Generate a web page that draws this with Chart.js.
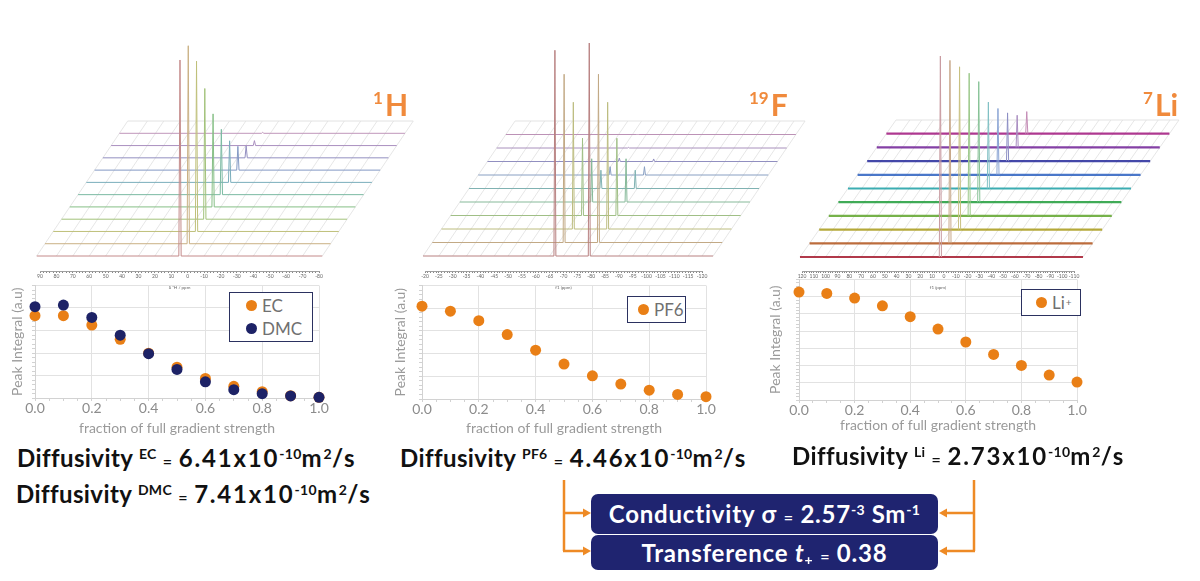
<!DOCTYPE html>
<html lang="en">
<head>
<meta charset="UTF-8" />
<title>Diffusion NMR of 1H, 19F and 7Li</title>
<script src="https://cdn.jsdelivr.net/npm/chart.js"></script>
<style>
  body { margin: 0; width: 1200px; height: 581px; background: #fff; position: relative; overflow: hidden;
         font-family: Lato, "Noto Sans", sans-serif; }
  canvas { position: absolute; }
  .nuc { position: absolute; color: #f08a3c; font-weight: 700; font-size: 30px; line-height: 1; white-space: nowrap; }
  .nuc .up { font-size: 17px; vertical-align: top; margin-right: 2px; }
  .diff { position: absolute; font-weight: 700; font-size: 24px; letter-spacing: 0.4px;
          line-height: 1; color: #111; white-space: nowrap; }
  .diff .val { letter-spacing: 1.8px; }
  .sp { position: relative; top: -8px; font-size: 14px; letter-spacing: 0.3px; }
  .eq { font-size: 16px; }
  .legend { position: absolute; box-sizing: border-box; border: 1.5px solid #2b3160; background: #fff;
            display: flex; flex-direction: column; justify-content: center; color: #707070; font-size: 17px; }
  .legend .row { display: flex; align-items: center; height: 23px; }
  .legend .dot { width: 11px; height: 11px; border-radius: 50%; margin-right: 5px; }
  .legend .plus { font-size: 10px; position: relative; top: -1px; margin-left: 1px; }
  .box { position: absolute; left: 591px; width: 347px; background: #1f2470; color: #fff; border-radius: 7px;
         font-weight: 700; font-size: 24px; letter-spacing: 0.8px; text-align: center; white-space: nowrap; }
</style>
</head>
<body>

<!-- spectra (pseudo 3D stacks) -->
<canvas id="specH" width="430" height="252" style="left:0px;top:20px"></canvas>
<canvas id="specF" width="410" height="252" style="left:400px;top:20px"></canvas>
<canvas id="specLi" width="410" height="252" style="left:790px;top:20px"></canvas>
<canvas id="axisH"></canvas>
<canvas id="axisF"></canvas>
<canvas id="axisLi"></canvas>

<!-- decay curves -->
<canvas id="decayH" width="330" height="160" style="left:0px;top:280px"></canvas>
<canvas id="decayF" width="335" height="160" style="left:385px;top:280px"></canvas>
<canvas id="decayLi" width="340" height="163" style="left:760px;top:274px"></canvas>

<div class="nuc" style="left:373px;top:89px"><span class="up">1</span>H</div>
<div class="nuc" style="left:749px;top:89px"><span class="up">19</span>F</div>
<div class="nuc" style="left:1143px;top:89px"><span class="up">7</span>Li</div>

<div class="diff" style="left:17px;top:446px">Diffusivity <span class="sp">EC</span> <span class="eq">=</span> <span class="val">6.41x10<span class="sp">-10</span>m<span class="sp">2</span>/s</span></div>
<div class="diff" style="left:16px;top:482px">Diffusivity <span class="sp">DMC</span> <span class="eq">=</span> <span class="val">7.41x10<span class="sp">-10</span>m<span class="sp">2</span>/s</span></div>
<div class="diff" style="left:400px;top:446px">Diffusivity <span class="sp">PF6</span> <span class="eq">=</span> <span class="val">4.46x10<span class="sp">-10</span>m<span class="sp">2</span>/s</span></div>
<div class="diff" style="left:792px;top:444px">Diffusivity <span class="sp">Li</span> <span class="eq">=</span> <span class="val">2.73x10<span class="sp">-10</span>m<span class="sp">2</span>/s</span></div>

<svg width="1200" height="581" style="position:absolute;left:0;top:0;pointer-events:none">
  <g stroke="#ee8a25" stroke-width="2.5" fill="none">
    <path d="M564 480 V551 M563 513 H584 M563 551 H584" />
    <path d="M974 480 V551 M975 513 H946 M975 551 H946" />
  </g>
  <g fill="#ee8a25">
    <polygon points="583,508.5 591,513 583,517.5" />
    <polygon points="583,546.5 591,551 583,555.5" />
    <polygon points="947,508.5 939,513 947,517.5" />
    <polygon points="947,546.5 939,551 947,555.5" />
  </g>
</svg>
<div class="box" style="top:494px;height:40px;line-height:40px">Conductivity &sigma; <span class="eq">=</span> 2.57<span class="sp">-3</span> Sm<span class="sp">-1</span></div>
<div class="box" style="top:535px;height:35px;line-height:35px">Transference <i>t</i><span style="font-size:14px;position:relative;top:3px">+</span> <span class="eq">=</span> 0.38</div>

<script>
// ---- decay data (peak integral vs gradient fraction) ----
const GRADIENT = [0.0, 0.1, 0.2, 0.3, 0.4, 0.5, 0.6, 0.7, 0.8, 0.9, 1.0];
const EC_INTEGRAL = [3.66, 3.66, 3.24, 2.61, 1.99, 1.37, 0.87, 0.52, 0.28, 0.10, 0.03];
const DMC_INTEGRAL = [4.06, 4.13, 3.58, 2.79, 1.97, 1.27, 0.72, 0.37, 0.19, 0.09, 0.03];
const PF6_INTEGRAL = [4.09, 3.87, 3.45, 2.84, 2.15, 1.54, 1.02, 0.66, 0.39, 0.20, 0.10];
const LI_INTEGRAL = [6.27, 6.19, 5.92, 5.47, 4.84, 4.12, 3.37, 2.65, 2.01, 1.45, 1.04];

// ---- spectra: peak positions (ppm) and relative heights per trace (front -> back) ----
const H_PEAK_PPM = [4.7];
const H_PEAK_HEIGHT = [[0.99, 1.0, 0.86, 0.66, 0.47, 0.33, 0.21, 0.12, 0.06, 0.025, 0.005]];
const F_PEAK_PPM = [-66.9, -79.3];
const F_PEAK_HEIGHT = [
  [0.966, 0.79, 0.595, 0.363, 0.203, 0.086, 0.039, 0.016, 0.003, 0],
  [1.0, 0.79, 0.595, 0.363, 0.203, 0.086, 0.039, 0.012, 0, 0]
];
const LI_PEAK_PPM = [3];
const LI_PEAK_HEIGHT = [[1.0, 0.91, 0.81, 0.71, 0.60, 0.43, 0.33, 0.24, 0.16, 0.11]];

const ORANGE = '#e97f16';
const NAVY = '#1d2266';

Chart.defaults.font.family = 'Lato, "Noto Sans", sans-serif';
Chart.defaults.animation = false;

const pts = (xs, ys) => xs.map((x, i) => ({ x: x, y: ys[i] }));
const isMult = (v, m) => Math.abs(v / m - Math.round(v / m)) < 1e-6;

// ---------- scatter (decay) charts ----------
function decayChart(id, datasets, yMax, L, legendPos) {
  // L: canvas/plot geometry in page pixels
  const padL = L.yTitleX - L.cl - 8.4;
  const axisW = L.aL - L.cl - padL;
  const axisH = L.ct + L.ch - L.aB;
  const chart = new Chart(document.getElementById(id), {
    type: 'scatter',
    data: { datasets: datasets.map(d => ({
      label: d.label, data: d.data, order: d.order,
      backgroundColor: d.color, borderWidth: 0,
      pointRadius: 5.5, pointHoverRadius: 5.5, clip: false
    })) },
    options: {
      responsive: false,
      layout: { padding: { left: padL, right: L.cl + L.cw - L.aR, top: L.aT - L.ct, bottom: 0 } },
      plugins: { legend: { display: false }, tooltip: { enabled: false } },
      scales: {
        x: {
          type: 'linear', min: 0, max: 1,
          afterFit: s => { s.height = axisH; },
          ticks: {
            stepSize: 0.05, autoSkip: false, maxRotation: 0, padding: -1,
            color: '#8c8c8c', font: { size: 14 },
            callback: v => isMult(v, 0.2) ? v.toFixed(1) : ''
          },
          grid: { color: c => isMult(c.tick.value, 0.2) ? '#e2e2e2' : 'rgba(0,0,0,0)', tickColor: '#d2d2d2', tickLength: 3 },
          border: { color: '#d2d2d2' },
          title: { display: true, text: 'fraction of full gradient strength', color: '#9a9a9a',
                   font: { size: 14 }, padding: { top: 0, bottom: 3 } }
        },
        y: {
          min: 0, max: yMax,
          afterFit: s => { s.width = axisW; },
          ticks: { display: false, stepSize: 0.2 },
          grid: { color: c => isMult(c.tick.value, 1) ? '#e2e2e2' : 'rgba(0,0,0,0)', tickColor: '#d2d2d2', tickLength: 3 },
          border: { color: '#d2d2d2' },
          title: { display: true, text: 'Peak Integral (a.u)', color: '#9a9a9a', font: { size: 14 }, padding: 0 }
        }
      }
    }
  });

  // legend box built from the chart's datasets
  const box = document.createElement('div');
  box.className = 'legend';
  Object.assign(box.style, { left: legendPos.left + 'px', top: legendPos.top + 'px',
                             width: legendPos.w + 'px', height: legendPos.h + 'px' });
  datasets.forEach(d => {
    const row = document.createElement('div');
    row.className = 'row';
    row.innerHTML = `<span class="dot" style="background:${d.color};margin-left:${legendPos.dot}px"></span>` +
      d.label.replace(/\+$/, '<span class="plus">+</span>');
    box.appendChild(row);
  });
  document.body.appendChild(box);
  return chart;
}

decayChart('decayH', [
  { label: 'EC', data: pts(GRADIENT, EC_INTEGRAL), color: ORANGE, order: 2 },
  { label: 'DMC', data: pts(GRADIENT, DMC_INTEGRAL), color: NAVY, order: 1 }
], 5, { cl: 0, ct: 280, cw: 330, ch: 160, aL: 35, aR: 319, aT: 285, aB: 398, yTitleX: 17 },
   { left: 229, top: 292, w: 84, h: 50, dot: 16 });

decayChart('decayF', [
  { label: 'PF6', data: pts(GRADIENT, PF6_INTEGRAL), color: ORANGE, order: 1 }
], 5, { cl: 385, ct: 280, cw: 335, ch: 160, aL: 422, aR: 706, aT: 285, aB: 399, yTitleX: 400 },
   { left: 627, top: 296, w: 59, h: 27, dot: 10 });

decayChart('decayLi', [
  { label: 'Li+', data: pts(GRADIENT, LI_INTEGRAL), color: ORANGE, order: 1 }
], 7, { cl: 760, ct: 274, cw: 340, ch: 163, aL: 799, aR: 1077, aT: 279, aB: 400, yTitleX: 775 },
   { left: 1021, top: 289, w: 60, h: 27, dot: 14 });

// ---------- stacked spectra ----------
function spectrumChart(id, g, peakPpm, peakHeight, colors, style) {
  const k = (g.axisR - g.axisL) / (g.ppmL - g.ppmR);       // px per ppm
  const xMax = g.ppmL + (g.axisL - g.left) / k;
  const xMin = g.ppmL - (g.left + g.width - g.axisL) / k;
  const y0 = g.top + g.height - g.baseY;
  const shift = i => i * g.dx / k;
  const base = i => y0 + i * g.dy;
  const order = peakPpm.map((p, j) => j).sort((a, b) => peakPpm[b] - peakPpm[a]);
  const nTrace = peakHeight[0].length;
  const datasets = [];

  for (let i = 0; i < nTrace; i++) {
    const s = shift(i), b = base(i);
    const spikes = [];
    order.forEach(j => {
      const x0 = peakPpm[j] - s;
      spikes.push({ x: x0 + g.halfW, y: b }, { x: x0, y: b + peakHeight[j][i] * g.peakPx }, { x: x0 - g.halfW, y: b });
    });
    if (style.split) {
      datasets.push({ data: spikes, borderColor: style.peakColor[i], borderWidth: 1 });
      datasets.push({ data: [{ x: g.floorL - s, y: b }, { x: g.floorR - s, y: b }], borderColor: colors[i], borderWidth: style.width });
    } else {
      datasets.push({ data: [{ x: g.floorL - s, y: b }, ...spikes, { x: g.floorR - s, y: b }],
                      borderColor: colors[i], borderWidth: style.width });
    }
  }
  // floor grid
  const N = g.steps;
  const gridPpm = [g.floorL];
  for (let q = g.gridFrom; q >= g.gridTo - 1e-9; q -= g.gridStep) gridPpm.push(q);
  gridPpm.push(g.floorR);
  gridPpm.forEach(q => datasets.push({ data: [{ x: q, y: base(0) }, { x: q - shift(N), y: base(N) }],
                                       borderColor: '#e0e0e0', borderWidth: 0.8 }));
  datasets.push({ data: [{ x: g.floorL - shift(N), y: base(N) }, { x: g.floorR - shift(N), y: base(N) }],
                  borderColor: '#dcdcdc', borderWidth: 0.8 });

  new Chart(document.getElementById(id), {
    type: 'scatter',
    data: { datasets: datasets.map(d => Object.assign(d, { showLine: true, pointRadius: 0, tension: 0, clip: false })) },
    options: {
      responsive: false,
      layout: { padding: 0 },
      plugins: { legend: { display: false }, tooltip: { enabled: false } },
      scales: {
        x: { type: 'linear', reverse: true, min: xMin, max: xMax, display: false },
        y: { min: 0, max: g.height, display: false }
      }
    }
  });

  // small ppm axis under the stack
  const c = document.getElementById(g.axisId);
  c.width = g.axisR - g.axisL + 24;
  c.height = 20;
  c.style.left = (g.axisL - 12) + 'px';
  c.style.top = '270px';
  new Chart(c, {
    type: 'scatter',
    data: { datasets: [] },
    options: {
      responsive: false,
      layout: { padding: { left: 12, right: 12, top: 0, bottom: 0 } },
      plugins: { legend: { display: false }, tooltip: { enabled: false } },
      scales: {
        x: {
          type: 'linear', reverse: true, min: g.ppmR, max: g.ppmL,
          afterFit: s => { s.height = 19; },
          ticks: { stepSize: g.minor, autoSkip: false, maxRotation: 0, padding: 0, color: '#666', font: { size: 5 },
                   callback: v => isMult(v, g.labelEvery) ? String(Math.round(v)) : '' },
          grid: { drawOnChartArea: false, tickLength: 2, tickColor: '#888' },
          border: { color: '#888', width: 0.8 },
          title: { display: true, text: g.axisTitle, color: '#666', font: { size: 4.5 }, padding: 0 }
        },
        y: { display: false }
      }
    }
  });
}

spectrumChart('specH', {
  left: 0, top: 20, width: 430, height: 252, axisL: 40, axisR: 319, ppmL: 90, ppmR: -80,
  floorL: 92, floorR: -82, gridFrom: 80, gridTo: -70, gridStep: 10,
  baseY: 256, dy: 12.27, dx: 8.27, steps: 11, peakPx: 198, halfW: 0.7,
  axisId: 'axisH', minor: 2, labelEvery: 10, axisTitle: 'δ ¹H / ppm'
}, H_PEAK_PPM, H_PEAK_HEIGHT,
  ['#c48a8a', '#c9b083', '#bfc07a', '#a2c27a', '#86bf86', '#7bbaa2', '#79adbb', '#8399c4', '#938fc0', '#aa8fbf', '#c096bb'],
  { width: 1 });

spectrumChart('specF', {
  left: 400, top: 20, width: 410, height: 252, axisL: 425, axisR: 702, ppmL: -20, ppmR: -120,
  floorL: -19.3, floorR: -124, gridFrom: -25, gridTo: -120, gridStep: 5,
  baseY: 256, dy: 13.5, dx: 9.2, steps: 10, peakPx: 213, halfW: 0.35,
  axisId: 'axisF', minor: 1, labelEvery: 5, axisTitle: 'f1 (ppm)'
}, F_PEAK_PPM, F_PEAK_HEIGHT,
  ['#b88080', '#c2a985', '#bcbc7f', '#a0bf86', '#86b999', '#80b2b2', '#889fc2', '#918fc0', '#a890bc', '#bc92b6'],
  { width: 1 });

spectrumChart('specLi', {
  left: 790, top: 20, width: 410, height: 252, axisL: 802, axisR: 1074, ppmL: 120, ppmR: -110,
  floorL: 121.7, floorR: -117.6, gridFrom: 110, gridTo: -110, gridStep: 10,
  baseY: 257, dy: 13.7, dx: 9.6, steps: 10, peakPx: 201, halfW: 0.9,
  axisId: 'axisLi', minor: 2, labelEvery: 10, axisTitle: 'f1 (ppm)'
}, LI_PEAK_PPM, LI_PEAK_HEIGHT,
  ['rgba(163,22,42,0.85)', 'rgba(176,82,26,0.85)', 'rgba(168,154,24,0.85)', 'rgba(94,165,42,0.85)', 'rgba(31,156,58,0.85)',
   'rgba(26,159,165,0.85)', 'rgba(42,95,192,0.85)', 'rgba(35,40,154,0.85)', 'rgba(111,31,149,0.85)', 'rgba(160,21,124,0.85)'],
  { width: 2.2, split: true,
    peakColor: ['#c89aa0', '#c8a88a', '#c8c080', '#9cc88a', '#86c296', '#80c0c4', '#8aa4d4', '#8c8ec4', '#a88cc0', '#c48cb6'] });
</script>
</body>
</html>
